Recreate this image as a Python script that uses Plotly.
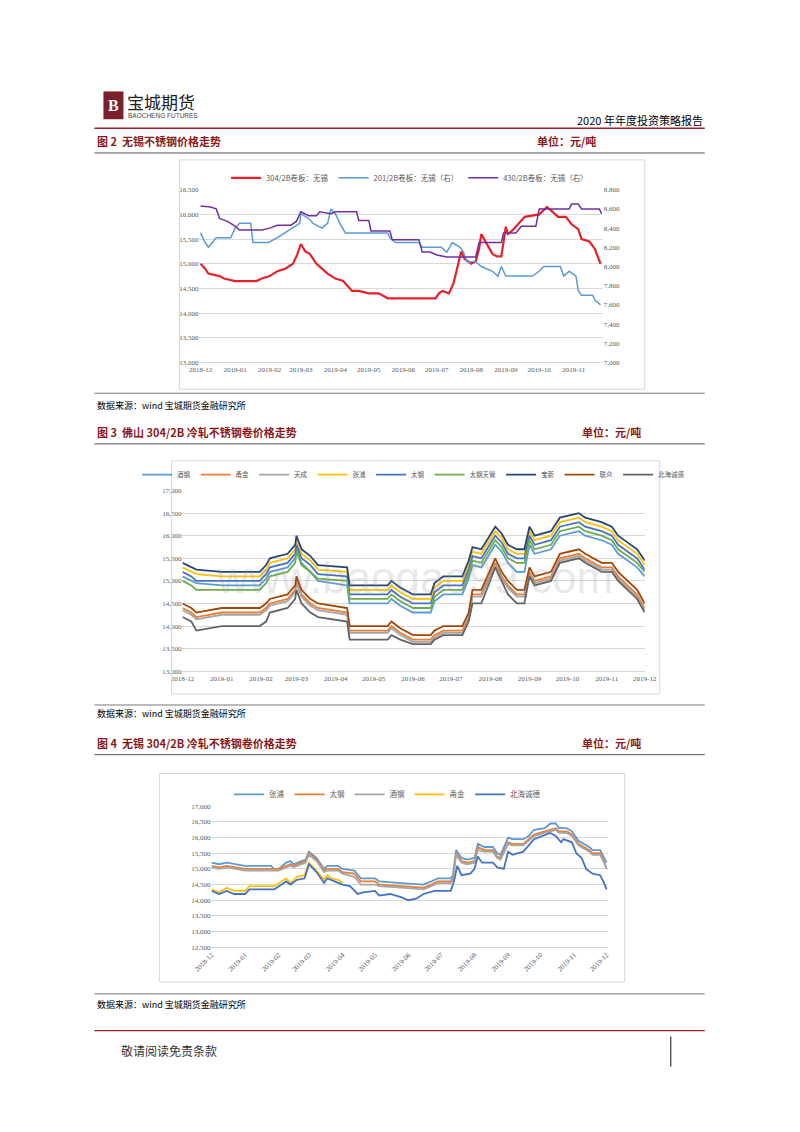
import plotly.graph_objects as go

W, H = 800, 1116
OFF_Y = 8
FONT = "Noto Sans CJK SC"


def px(x):
    # page coordinates as measured on the reference, mapped to paper fraction
    return (x - 26.6) / 0.962 / W


def py(y):
    return 1 - (y - OFF_Y) / H


# ---- chart 1: Wuxi stainless price (304 left axis, 201/430 right axis)
d304 = ["2018-12-01", "2018-12-05", "2018-12-08", "2018-12-18", "2018-12-22", "2019-01-01", "2019-01-20",
        "2019-01-25", "2019-02-01", "2019-02-08", "2019-02-15", "2019-02-22", "2019-02-26", "2019-03-01",
        "2019-03-05", "2019-03-09", "2019-03-12", "2019-03-15", "2019-03-20", "2019-03-25", "2019-04-01",
        "2019-04-08", "2019-04-12", "2019-04-16", "2019-04-22", "2019-05-01", "2019-05-10", "2019-05-18",
        "2019-06-30", "2019-07-03", "2019-07-06", "2019-07-12", "2019-07-16", "2019-07-20", "2019-07-23",
        "2019-07-26", "2019-08-01", "2019-08-05", "2019-08-08", "2019-08-10", "2019-08-15", "2019-08-20",
        "2019-08-24", "2019-08-28", "2019-09-01", "2019-09-03", "2019-09-08", "2019-09-12", "2019-09-18",
        "2019-10-01", "2019-10-08", "2019-10-13", "2019-10-18", "2019-10-25", "2019-10-30", "2019-11-05",
        "2019-11-08", "2019-11-15", "2019-11-20", "2019-11-25"]
v304 = [15000, 14900, 14800, 14750, 14700, 14650, 14650, 14700, 14750, 14850, 14900, 15000, 15200, 15400,
        15250, 15200, 15100, 15000, 14900, 14800, 14700, 14650, 14550, 14450, 14450, 14400, 14400, 14300,
        14300, 14400, 14450, 14400, 14600, 15000, 15250, 15100, 15000, 15050, 15300, 15600, 15400, 15200,
        15150, 15150, 15750, 15600, 15700, 15800, 15950, 16000, 16150, 16050, 15950, 15950, 15800, 15700,
        15500, 15450, 15300, 15000]

d201 = ["2018-12-01", "2018-12-05", "2018-12-08", "2018-12-15", "2018-12-28", "2019-01-01", "2019-01-05",
        "2019-01-15", "2019-01-17", "2019-01-31", "2019-02-08", "2019-02-15", "2019-02-28", "2019-03-01",
        "2019-03-08", "2019-03-12", "2019-03-20", "2019-03-25", "2019-03-28", "2019-04-01", "2019-04-05",
        "2019-04-10", "2019-05-18", "2019-05-20", "2019-05-25", "2019-06-15", "2019-06-18", "2019-07-05",
        "2019-07-10", "2019-07-15", "2019-07-22", "2019-07-25", "2019-07-28", "2019-08-05", "2019-08-10",
        "2019-08-20", "2019-08-25", "2019-08-28", "2019-09-01", "2019-09-25", "2019-10-01", "2019-10-05",
        "2019-10-20", "2019-10-23", "2019-10-28", "2019-11-03", "2019-11-05", "2019-11-08", "2019-11-18",
        "2019-11-20", "2019-11-25"]
v201 = [8350, 8250, 8200, 8300, 8300, 8400, 8450, 8450, 8250, 8250, 8300, 8350, 8450, 8550, 8500, 8450,
        8400, 8450, 8600, 8550, 8450, 8350, 8350, 8300, 8250, 8250, 8200, 8200, 8150, 8250, 8200, 8150,
        8050, 8050, 8000, 7950, 7900, 8000, 7900, 7900, 7950, 8000, 8000, 7900, 7950, 7900, 7750, 7700,
        7700, 7650, 7600]

d430 = ["2018-12-01", "2018-12-10", "2018-12-15", "2018-12-18", "2018-12-25", "2019-01-01", "2019-01-05",
        "2019-01-25", "2019-02-01", "2019-02-08", "2019-02-20", "2019-02-25", "2019-03-01", "2019-03-08",
        "2019-03-15", "2019-03-18", "2019-03-28", "2019-04-01", "2019-04-20", "2019-04-22", "2019-05-01",
        "2019-05-03", "2019-05-20", "2019-05-22", "2019-06-15", "2019-06-18", "2019-06-25", "2019-07-01",
        "2019-07-10", "2019-08-05", "2019-08-08", "2019-08-28", "2019-08-30", "2019-09-10", "2019-09-15",
        "2019-09-28", "2019-10-01", "2019-10-28", "2019-10-30", "2019-11-05", "2019-11-08", "2019-11-24",
        "2019-11-26"]
v430 = [8630, 8620, 8600, 8500, 8470, 8420, 8380, 8380, 8400, 8430, 8430, 8470, 8570, 8530, 8530, 8570,
        8550, 8570, 8570, 8480, 8480, 8370, 8370, 8280, 8280, 8150, 8150, 8120, 8100, 8100, 8250, 8250,
        8350, 8350, 8420, 8420, 8600, 8600, 8650, 8650, 8600, 8600, 8550]

# ---- chart 2: Foshan 304/2B cold-rolled coil
d_fs = ["2018-12-01", "2018-12-08", "2018-12-12", "2019-01-01", "2019-01-31", "2019-02-05", "2019-02-08",
        "2019-02-22", "2019-02-28", "2019-03-01", "2019-03-05", "2019-03-12", "2019-03-18", "2019-04-10",
        "2019-04-12", "2019-05-12", "2019-05-15", "2019-05-22", "2019-06-01", "2019-06-15", "2019-06-18",
        "2019-06-25", "2019-07-10", "2019-07-15", "2019-07-18", "2019-07-25", "2019-08-05", "2019-08-10",
        "2019-08-15", "2019-08-22", "2019-08-28", "2019-09-01", "2019-09-05", "2019-09-18", "2019-09-25",
        "2019-10-10", "2019-10-15", "2019-10-28", "2019-11-05", "2019-11-10", "2019-11-25", "2019-12-01"]
fs_baoxin = [15400, 15300, 15250, 15200, 15200, 15350, 15500, 15600, 15800, 16000, 15700, 15550, 15350, 15300,
             14900, 14900, 15000, 14850, 14700, 14700, 14950, 15100, 15100, 15450, 15750, 15700, 16200, 16050,
             15800, 15700, 15700, 16200, 16000, 16100, 16400, 16500, 16400, 16300, 16200, 16000, 15700, 15450]
fs_zhangpu = [15300, 15200, 15150, 15100, 15100, 15250, 15400, 15500, 15700, 15900, 15600, 15450, 15250, 15200,
              14800, 14800, 14900, 14750, 14600, 14600, 14850, 15000, 15000, 15350, 15650, 15600, 16100, 15950,
              15700, 15600, 15600, 16100, 15900, 16000, 16300, 16400, 16300, 16200, 16100, 15900, 15600, 15350]
fs_taigang = [15200, 15100, 15000, 15000, 15000, 15150, 15300, 15400, 15600, 15800, 15500, 15350, 15150, 15100,
              14700, 14700, 14800, 14650, 14500, 14500, 14750, 14900, 14900, 15250, 15550, 15500, 16000, 15850,
              15600, 15500, 15500, 16000, 15800, 15900, 16200, 16300, 16200, 16100, 16000, 15800, 15500, 15250]
fs_tgtg = [15000, 14900, 14800, 14800, 14800, 14950, 15100, 15200, 15400, 15650, 15350, 15200, 15050, 15000,
           14600, 14600, 14700, 14550, 14400, 14400, 14650, 14800, 14800, 15150, 15450, 15400, 15900, 15750,
           15500, 15400, 15400, 15900, 15700, 15800, 16100, 16200, 16100, 16000, 15900, 15700, 15400, 15200]
fs_jiugang = [15100, 15000, 14950, 14900, 14900, 15050, 15200, 15300, 15500, 15700, 15400, 15200, 15000, 14900,
              14500, 14500, 14600, 14450, 14300, 14300, 14550, 14700, 14700, 15050, 15350, 15300, 15800, 15650,
              15400, 15200, 15200, 15800, 15600, 15700, 16000, 16100, 16000, 15900, 15800, 15600, 15300, 15100]
fs_lianzhong = [14500, 14400, 14300, 14400, 14400, 14500, 14600, 14700, 14900, 15100, 14800, 14600, 14500, 14400,
                14000, 14000, 14100, 13950, 13800, 13800, 13900, 14000, 14000, 14300, 14800, 14800, 15500, 15200,
                15000, 14800, 14800, 15300, 15100, 15200, 15600, 15700, 15600, 15400, 15400, 15200, 14800, 14500]
fs_yongjin = [14400, 14300, 14200, 14300, 14300, 14400, 14500, 14600, 14800, 15000, 14700, 14500, 14400, 14300,
              13900, 13900, 14000, 13850, 13700, 13700, 13800, 13900, 13900, 14200, 14700, 14700, 15400, 15100,
              14900, 14700, 14700, 15200, 15000, 15100, 15500, 15600, 15500, 15300, 15300, 15100, 14700, 14400]
fs_tiancheng = [14350, 14250, 14150, 14250, 14250, 14350, 14450, 14550, 14750, 14950, 14650, 14450, 14350, 14250,
                13850, 13850, 13950, 13800, 13650, 13650, 13750, 13850, 13850, 14150, 14650, 14650, 15350, 15050,
                14850, 14650, 14650, 15150, 14950, 15050, 15450, 15550, 15450, 15250, 15250, 15050, 14650, 14350]
fs_beihai = [14200, 14100, 13900, 14000, 14000, 14100, 14300, 14400, 14600, 14800, 14500, 14300, 14200, 14100,
             13700, 13700, 13800, 13700, 13600, 13600, 13700, 13800, 13800, 14100, 14500, 14500, 15300, 15000,
             14700, 14500, 14500, 15100, 14900, 15000, 15400, 15500, 15400, 15200, 15200, 15000, 14600, 14300]

# ---- chart 3: Wuxi 304/2B cold-rolled coil
d_wx = ["2018-12-01", "2018-12-08", "2018-12-15", "2019-01-01", "2019-01-25", "2019-01-28", "2019-02-01",
        "2019-02-08", "2019-02-12", "2019-02-15", "2019-02-22", "2019-02-26", "2019-03-01", "2019-03-08",
        "2019-03-15", "2019-03-18", "2019-03-28", "2019-04-01", "2019-04-12", "2019-04-18", "2019-05-01",
        "2019-05-05", "2019-05-25", "2019-06-15", "2019-06-22", "2019-06-28", "2019-07-10", "2019-07-12",
        "2019-07-15", "2019-07-20", "2019-07-25", "2019-08-01", "2019-08-04", "2019-08-10", "2019-08-18",
        "2019-08-22", "2019-08-25", "2019-09-01", "2019-09-05", "2019-09-15", "2019-09-20", "2019-09-25",
        "2019-10-05", "2019-10-10", "2019-10-15", "2019-10-18", "2019-10-25", "2019-10-30", "2019-11-05",
        "2019-11-10", "2019-11-15", "2019-11-18", "2019-11-25", "2019-11-28", "2019-12-01"]
wx_zhangpu = [15200, 15150, 15200, 15100, 15100, 15000, 15000, 15200, 15250, 15150, 15250, 15300, 15550, 15350,
              15000, 15100, 15100, 15000, 14950, 14700, 14700, 14600, 14550, 14500, 14600, 14700, 14700, 14800,
              15600, 15350, 15300, 15350, 15800, 15700, 15700, 15500, 15450, 16000, 15950, 15950, 16050, 16250,
              16300, 16450, 16450, 16300, 16300, 16200, 15900, 15800, 15700, 15600, 15600, 15400, 15200]
wx_taigang = [15100, 15050, 15100, 15000, 15000, 15000, 15000, 15100, 15150, 15100, 15200, 15250, 15500, 15300,
              14950, 15000, 15000, 14900, 14850, 14600, 14600, 14500, 14450, 14400, 14500, 14600, 14600, 14700,
              15500, 15250, 15200, 15250, 15700, 15600, 15600, 15400, 15350, 15850, 15800, 15800, 15950, 16100,
              16200, 16250, 16300, 16200, 16200, 16100, 15800, 15700, 15600, 15500, 15500, 15300, 15000]
wx_jiugang = [15050, 15000, 15050, 14950, 14950, 14950, 14950, 15050, 15100, 15050, 15150, 15200, 15450, 15250,
              14900, 14950, 14950, 14850, 14750, 14500, 14500, 14450, 14400, 14350, 14450, 14550, 14550, 14650,
              15450, 15200, 15150, 15200, 15600, 15550, 15550, 15350, 15300, 15800, 15750, 15750, 15900, 16050,
              16150, 16200, 16250, 16150, 16150, 16050, 15750, 15650, 15550, 15450, 15450, 15250, 15000]
d_yj = ["2018-12-01", "2018-12-08", "2018-12-15", "2018-12-22", "2019-01-01", "2019-01-05", "2019-01-28",
        "2019-02-08", "2019-02-12", "2019-02-18", "2019-02-25", "2019-03-01", "2019-03-08", "2019-03-15",
        "2019-03-18", "2019-03-22", "2019-03-28", "2019-04-01"]
wx_yongjin = [14350, 14250, 14400, 14300, 14300, 14450, 14450, 14700, 14550, 14750, 14800, 15200, 14950, 14650,
              14800, 14700, 14650, 14550]
d_bh = ["2018-12-01", "2018-12-08", "2018-12-15", "2018-12-22", "2019-01-01", "2019-01-05", "2019-01-28",
        "2019-02-08", "2019-02-12", "2019-02-18", "2019-02-25", "2019-03-01", "2019-03-08", "2019-03-15",
        "2019-03-18", "2019-04-01", "2019-04-08", "2019-04-15", "2019-04-20", "2019-05-01", "2019-05-05",
        "2019-05-15", "2019-05-25", "2019-06-01", "2019-06-08", "2019-06-15", "2019-06-25", "2019-07-10",
        "2019-07-13", "2019-07-16", "2019-07-20", "2019-07-28", "2019-08-01", "2019-08-04", "2019-08-08",
        "2019-08-18", "2019-08-22", "2019-08-28", "2019-09-01", "2019-09-05", "2019-09-15", "2019-09-20",
        "2019-09-25", "2019-10-10", "2019-10-15", "2019-10-20", "2019-10-22", "2019-10-30", "2019-11-03",
        "2019-11-08", "2019-11-12", "2019-11-18", "2019-11-25", "2019-11-28", "2019-12-01"]
wx_beihai = [14300, 14200, 14300, 14200, 14200, 14350, 14350, 14600, 14500, 14650, 14700, 15150, 14900, 14550,
             14700, 14500, 14450, 14200, 14250, 14300, 14150, 14200, 14100, 14000, 14050, 14200, 14300, 14300,
             14600, 15100, 14800, 14850, 15000, 15400, 15200, 15200, 15050, 15000, 15550, 15450, 15550, 15750,
             15950, 16150, 16050, 15850, 15950, 15850, 15500, 15350, 15000, 14850, 14800, 14600, 14350]

fig = go.Figure()

# chart 1
fig.add_trace(go.Scatter(x=d304, y=v304, name="304/2B卷板：无锡", mode="lines",
                         line=dict(color="#E8202A", width=2.2), xaxis="x", yaxis="y", legend="legend"))
fig.add_trace(go.Scatter(x=d201, y=v201, name="201/2B卷板：无锡（右）", mode="lines",
                         line=dict(color="#5B9BD5", width=1.5), xaxis="x", yaxis="y2", legend="legend"))
fig.add_trace(go.Scatter(x=d430, y=v430, name="430/2B卷板：无锡（右）", mode="lines",
                         line=dict(color="#7030A0", width=1.5), xaxis="x", yaxis="y2", legend="legend"))

# chart 2
fs_series = [("酒钢", fs_jiugang, "#5B9BD5"), ("甬金", fs_yongjin, "#ED7D31"), ("天成", fs_tiancheng, "#A5A5A5"),
             ("张浦", fs_zhangpu, "#FFC000"), ("太钢", fs_taigang, "#4472C4"), ("太钢天管", fs_tgtg, "#70AD47"),
             ("宝新", fs_baoxin, "#264478"), ("联众", fs_lianzhong, "#9E480E"), ("北海诚德", fs_beihai, "#636363")]
for name, vals, col in fs_series:
    fig.add_trace(go.Scatter(x=d_fs, y=vals, name=name, mode="lines", line=dict(color=col, width=1.8),
                             xaxis="x2", yaxis="y3", legend="legend2"))

# chart 3
wx_series = [("张浦", d_wx, wx_zhangpu, "#5B9BD5"), ("太钢", d_wx, wx_taigang, "#ED7D31"),
             ("酒钢", d_wx, wx_jiugang, "#A5A5A5"), ("甬金", d_yj, wx_yongjin, "#FFC000"),
             ("北海诚德", d_bh, wx_beihai, "#4472C4")]
for name, dd, vals, col in wx_series:
    fig.add_trace(go.Scatter(x=dd, y=vals, name=name, mode="lines", line=dict(color=col, width=1.8),
                             xaxis="x3", yaxis="y4", legend="legend3"))

tick = dict(family="Liberation Serif", size=7, color="#595959")
grid = "#D9D9D9"
xcommon = dict(type="date", dtick="M1", tickformat="%Y-%m", tickfont=tick, showgrid=False,
               showline=True, linecolor=grid, ticks="", fixedrange=True)
ycommon = dict(tickfont=tick, gridcolor=grid, showline=False, zeroline=False, tickformat=",")

legend_font = dict(family=FONT, size=7.5, color="#595959")

fig.update_layout(
    width=W, height=H, margin=dict(l=0, r=0, t=0, b=0),
    paper_bgcolor="white", plot_bgcolor="white", showlegend=True,
    xaxis=dict(xcommon, domain=[px(200), px(603)], range=["2018-11-30", "2019-11-27"], anchor="y"),
    yaxis=dict(ycommon, domain=[py(361), py(187)], range=[13000, 16500], dtick=500),
    yaxis2=dict(ycommon, overlaying="y", side="right", range=[7000, 8800], dtick=200, showgrid=False),
    xaxis2=dict(xcommon, domain=[px(183), px(645)], range=["2018-12-01", "2019-12-01"], anchor="y3"),
    yaxis3=dict(ycommon, domain=[py(672), py(490)], range=[13000, 17000], dtick=500, anchor="x2"),
    xaxis3=dict(xcommon, domain=[px(212), px(608)], range=["2018-12-01", "2019-12-02"], anchor="y4",
                tickangle=-45),
    yaxis4=dict(ycommon, domain=[py(950), py(808)], range=[12500, 17000], dtick=500, anchor="x3"),
    legend=dict(orientation="h", x=px(410), xanchor="center", y=py(175), yanchor="middle", font=legend_font,
                itemwidth=30, bgcolor="rgba(0,0,0,0)"),
    legend2=dict(orientation="h", x=px(414), xanchor="center", y=py(474), yanchor="middle",
                 font=dict(legend_font, size=6.5), itemwidth=30, tracegroupgap=0,
                 bgcolor="rgba(0,0,0,0)"),
    legend3=dict(orientation="h", x=px(388), xanchor="center", y=py(796), yanchor="middle", font=legend_font,
                 itemwidth=30, bgcolor="rgba(0,0,0,0)"),
)

# page furniture: rules and chart boxes
shapes = []


def hline(y, x0, x1, color, w=1):
    shapes.append(dict(type="line", xref="paper", yref="paper", x0=px(x0), x1=px(x1), y0=py(y), y1=py(y),
                       line=dict(color=color, width=w)))


def box(x0, y0, x1, y1):
    shapes.append(dict(type="rect", xref="paper", yref="paper", x0=px(x0), x1=px(x1), y0=py(y1), y1=py(y0),
                       line=dict(color="#D9D9D9", width=1)))


RED = "#8B1A1A"
hline(125, 95, 705, "#A31F24", 1.5)
for yy in (150, 443, 756):
    hline(yy, 95, 705, "#555555", 1)
for yy in (392, 706, 997):
    hline(yy, 95, 705, "#555555", 0.8)
hline(1034, 95, 705, "#A31F24", 1.2)
shapes.append(dict(type="line", xref="paper", yref="paper", x0=px(671), x1=px(671), y0=py(1040), y1=py(1070),
                   line=dict(color="#333333", width=1.2)))
box(180, 157, 645, 388)
box(172, 460, 660, 695)
box(160, 775, 625, 985)
# logo mark
shapes.append(dict(type="rect", xref="paper", yref="paper", x0=px(104), x1=px(124), y0=py(116), y1=py(88),
                   fillcolor="#7A1F2B", line=dict(width=0)))
fig.update_layout(shapes=shapes)

ann = []


def text(x, y, s, size=10, color="#000000", anchor="left", family=FONT, bold=False):
    ann.append(dict(xref="paper", yref="paper", x=px(x), y=py(y), text=f"<b>{s}</b>" if bold else s,
                    showarrow=False, xanchor=anchor, yanchor="middle", align=anchor,
                    font=dict(family=family, size=size, color=color)))


text(114, 102, "B", 16, "white", "center", "Liberation Serif", True)
text(126, 98, "宝城期货", 17, "#222222")
text(127, 112, "BAOCHENG FUTURES", 6.5, "#444444", family="Liberation Sans")
text(705, 117, "2020 年年度投资策略报告", 11, "#000000", "right")
for y, t in ((138, "图 2  无锡不锈钢价格走势"), (431, "图 3  佛山 304/2B 冷轧不锈钢卷价格走势"),
             (744, "图 4  无锡 304/2B 冷轧不锈钢卷价格走势")):
    text(96, y, t, 11, RED, bold=True)
text(535, 138, "单位：元/吨", 11, RED, bold=True)
text(580, 431, "单位：元/吨", 11, RED, bold=True)
text(580, 744, "单位：元/吨", 11, RED, bold=True)
for y in (404, 715, 1008):
    text(96, y, "数据来源：wind 宝城期货金融研究所", 9, "#000000")
text(120, 1054, "敬请阅读免责条款", 12, "#333333")
text(415, 578, "www.baogao99.com", 44, "rgba(150,150,150,0.22)", "center", "Liberation Sans")
fig.update_layout(annotations=ann)

fig.write_html("out.html")
